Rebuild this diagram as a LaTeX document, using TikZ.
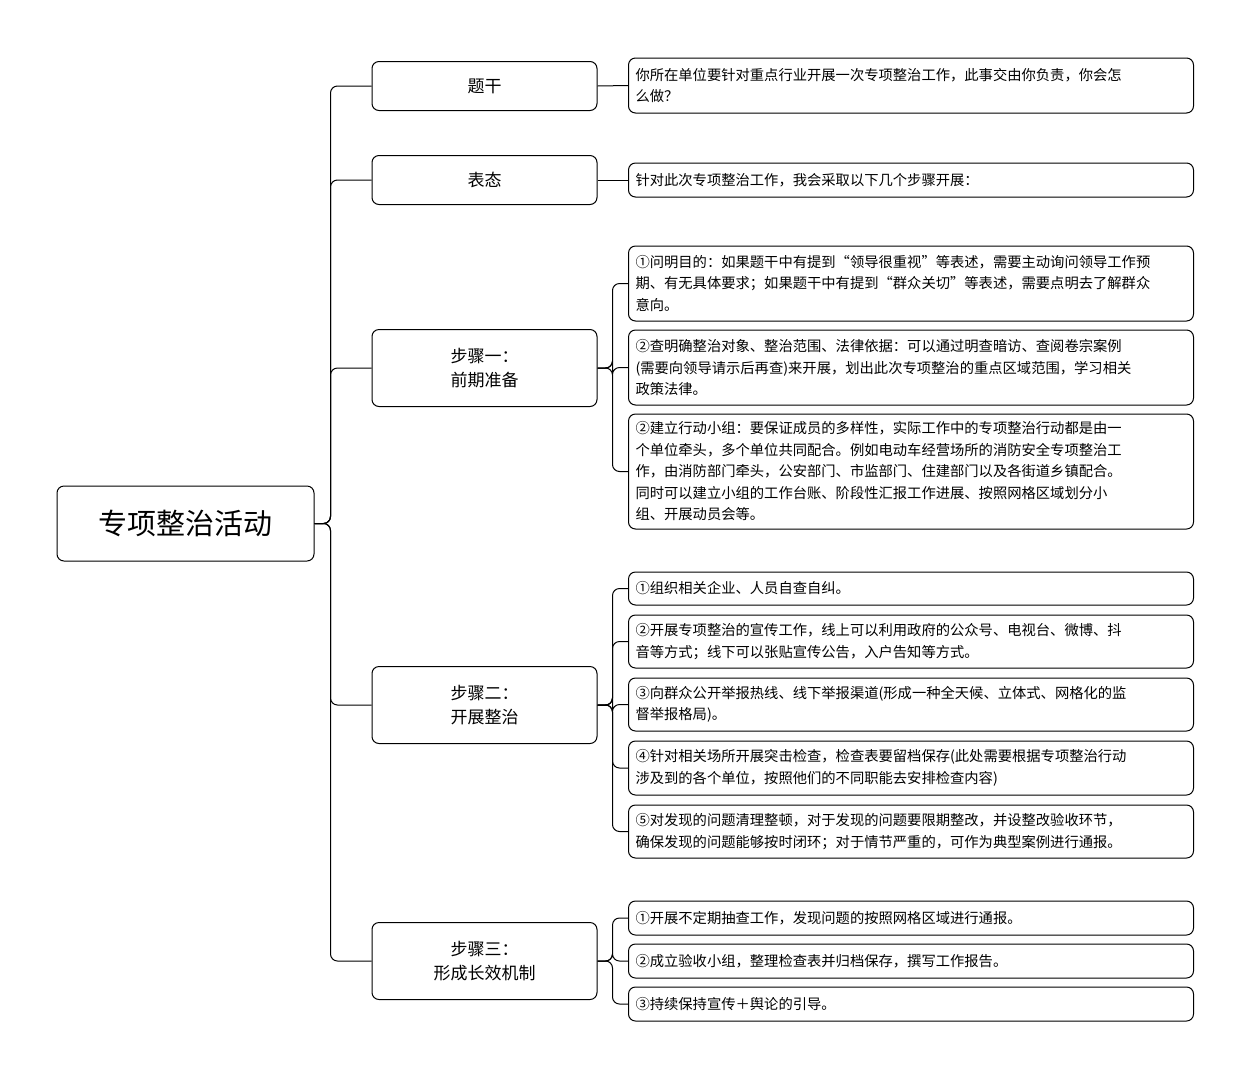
\documentclass[tikz,border=0pt]{standalone}
\usepackage{fontspec}
\setmainfont{Noto Sans CJK SC}
\begin{document}
\begin{tikzpicture}[x=1pt,y=-1pt,
  box/.style={draw,line width=1pt,rounded corners=7pt,fill=white},
  lvl/.style={box,minimum width=225pt,align=center,font=\fontsize{17}{24}\selectfont,inner sep=0pt},
  leaf/.style={box,anchor=west,text width=551pt,align=left,inner sep=7pt,font=\fontsize{14.3}{21.5}\selectfont},
  con/.style={line width=1pt,rounded corners=7pt}]
\useasboundingbox (0,0) rectangle (1251,1080);
\node[box,minimum width=257pt,minimum height=75pt,font=\fontsize{29}{34}\selectfont] (root) at (185.5,523.5) {专项整治活动};
\node[lvl,minimum height=49pt] (a) at (484.5,86) {题干};
\node[lvl,minimum height=49pt] (b) at (484.5,180) {表态};
\node[lvl,minimum height=77pt] (c) at (484.5,368) {步骤一：\\前期准备};
\node[lvl,minimum height=77pt] (d) at (484.5,705) {步骤二：\\开展整治};
\node[lvl,minimum height=77pt] (e) at (484.5,961) {步骤三：\\形成长效机制};

\node[leaf,minimum height=55pt] (a1) at (628,85.5) {你所在单位要针对重点行业开展一次专项整治工作，此事交由你负责，你会怎\\么做？};
\node[leaf,minimum height=34pt] (b1) at (628,180) {针对此次专项整治工作，我会采取以下几个步骤开展：};
\node[leaf,minimum height=75pt] (c1) at (628,283.5) {①问明目的：如果题干中有提到“领导很重视”等表述，需要主动询问领导工作预\\期、有无具体要求；如果题干中有提到“群众关切”等表述，需要点明去了解群众\\意向。};
\node[leaf,minimum height=75pt] (c2) at (628,367.5) {②查明确整治对象、整治范围、法律依据：可以通过明查暗访、查阅卷宗案例\\(需要向领导请示后再查)来开展，划出此次专项整治的重点区域范围，学习相关\\政策法律。};
\node[leaf,minimum height=115pt] (c3) at (628,471.5) {②建立行动小组：要保证成员的多样性，实际工作中的专项整治行动都是由一\\个单位牵头，多个单位共同配合。例如电动车经营场所的消防安全专项整治工\\作，由消防部门牵头，公安部门、市监部门、住建部门以及各街道乡镇配合。\\同时可以建立小组的工作台账、阶段性汇报工作进展、按照网格区域划分小\\组、开展动员会等。};
\node[leaf,minimum height=33pt] (d1) at (628,588.5) {①组织相关企业、人员自查自纠。};
\node[leaf,minimum height=53pt] (d2) at (628,641.5) {②开展专项整治的宣传工作，线上可以利用政府的公众号、电视台、微博、抖\\音等方式；线下可以张贴宣传公告，入户告知等方式。};
\node[leaf,minimum height=53pt] (d3) at (628,704.5) {③向群众公开举报热线、线下举报渠道(形成一种全天候、立体式、网格化的监\\督举报格局)。};
\node[leaf,minimum height=54pt] (d4) at (628,768) {④针对相关场所开展突击检查，检查表要留档保存(此处需要根据专项整治行动\\涉及到的各个单位，按照他们的不同职能去安排检查内容)};
\node[leaf,minimum height=53pt] (d5) at (628,831.5) {⑤对发现的问题清理整顿，对于发现的问题要限期整改，并设整改验收环节，\\确保发现的问题能够按时闭环；对于情节严重的，可作为典型案例进行通报。};
\node[leaf,minimum height=34pt] (e1) at (628,918) {①开展不定期抽查工作，发现问题的按照网格区域进行通报。};
\node[leaf,minimum height=34pt] (e2) at (628,961) {②成立验收小组，整理检查表并归档保存，撰写工作报告。};
\node[leaf,minimum height=34pt] (e3) at (628,1004) {③持续保持宣传＋舆论的引导。};

\foreach \t in {a,b,c,d,e} \draw[con] (root.east) -- ++(16,0) |- (\t.west);
\draw[con] (a.east) -- (a1.west);
\draw[con] (b.east) -- (b1.west);
\foreach \l in {c1,c2,c3} \draw[con] (c.east) -- ++(15,0) |- (\l.west);
\foreach \l in {d1,d2,d3,d4,d5} \draw[con] (d.east) -- ++(15,0) |- (\l.west);
\foreach \l in {e1,e2,e3} \draw[con] (e.east) -- ++(15,0) |- (\l.west);
\end{tikzpicture}
\end{document}
